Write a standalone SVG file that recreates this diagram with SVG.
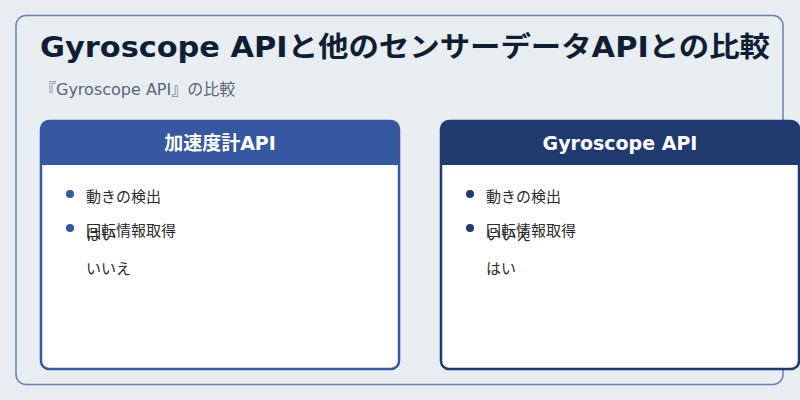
<svg xmlns="http://www.w3.org/2000/svg" width="800" height="400" viewBox="0 0 800 400">
<style>
text{font-family:"DejaVu Sans","Noto Sans CJK JP",sans-serif}
.card{fill:#fff;stroke-width:2.5}
.hd{fill:#fff;font-size:19px;font-weight:bold;text-anchor:middle}
.it{fill:#2a2a2a;font-size:15px}
</style>
<rect width="800" height="400" fill="#e8edf2"/>
<rect x="16" y="15.5" width="767" height="369" rx="10" fill="none" stroke="#6a80b0" stroke-width="1.5"/>
<text x="40" y="57" font-size="28" font-weight="bold" fill="#0f1e33" textLength="730" lengthAdjust="spacingAndGlyphs">Gyroscope APIと他のセンサーデータAPIとの比較</text>
<text x="40" y="95" font-size="16" fill="#5a6576">『Gyroscope API』の比較</text>
<g id="left">
<rect class="card" x="41" y="121" width="358" height="248" rx="8" stroke="#3558a0"/>
<path d="M41 165V129a8 8 0 0 1 8-8h342a8 8 0 0 1 8 8v36z" fill="#3558a0"/>
<text class="hd" x="220" y="150">加速度計API</text>
<circle cx="70" cy="194" r="4" fill="#3558a0"/><text class="it" x="86" y="202">動きの検出</text>
<circle cx="70" cy="228" r="4" fill="#3558a0"/><text class="it" x="86" y="236">回転情報取得</text>
<text class="it" x="86" y="240">はい</text>
<text class="it" x="86" y="274">いいえ</text>
</g>
<g id="right">
<rect class="card" x="441" y="121" width="358" height="248" rx="8" stroke="#1e3a6e"/>
<path d="M441 165V129a8 8 0 0 1 8-8h342a8 8 0 0 1 8 8v36z" fill="#1e3a6e"/>
<text class="hd" x="620" y="150">Gyroscope API</text>
<circle cx="470" cy="194" r="4" fill="#1e3a6e"/><text class="it" x="486" y="202">動きの検出</text>
<circle cx="470" cy="228" r="4" fill="#1e3a6e"/><text class="it" x="486" y="236">回転情報取得</text>
<text class="it" x="486" y="240">いいえ</text>
<text class="it" x="486" y="274">はい</text>
</g>
<g id="connectors"/>
</svg>
